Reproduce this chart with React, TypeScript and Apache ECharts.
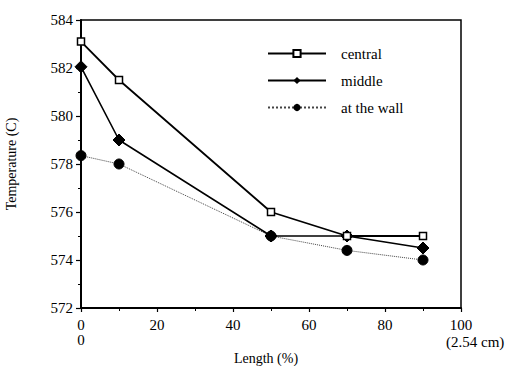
import React, { useEffect, useRef } from "react";
import * as echarts from "echarts";

const lengths = [0, 10, 50, 70, 90];
const central = [583.1, 581.5, 576.0, 575.0, 575.0];
const middle = [582.05, 579.0, 575.0, 575.0, 574.5];
const atTheWall = [578.35, 578.0, 575.0, 574.4, 574.0];
const seriesNames = ["central", "middle", "at the wall"];
const xTicks = [0, 20, 40, 60, 80, 100];
const yTicks = [572, 574, 576, 578, 580, 582, 584];

const FONT = "Liberation Serif";

export default function App() {
  const ref = useRef<HTMLDivElement>(null);
  useEffect(() => {
    document.body.style.margin = "0";
    if (!ref.current) return;
    const chart = echarts.init(ref.current, undefined, { renderer: "svg" });
    const pair = (arr: number[]) => lengths.map((x, i) => [x, arr[i]]);
    chart.setOption({
      animation: false,
      backgroundColor: "#fff",
      textStyle: { fontFamily: FONT, color: "#000" },
      grid: {
        left: 81,
        right: 52,
        top: 20,
        bottom: 58,
        containLabel: false,
        outerBoundsMode: "none",
        show: true,
        borderColor: "#000",
        borderWidth: 1.5,
        backgroundColor: "transparent",
      },
      legend: {
        orient: "vertical",
        left: 262,
        top: 41,
        itemWidth: 58,
        itemHeight: 9,
        itemGap: 12,
        data: seriesNames,
        textStyle: { fontFamily: FONT, fontSize: 15, color: "#000", padding: [0, 0, 0, 10] },
      },
      xAxis: {
        type: "value",
        min: xTicks[0],
        max: xTicks[xTicks.length - 1],
        interval: 20,
        name: "Length (%)",
        nameLocation: "middle",
        nameGap: 37,
        nameTextStyle: { fontFamily: FONT, fontSize: 14, color: "#000", padding: [0, 0, 0, -10] },
        axisLine: { show: true, onZero: false, lineStyle: { color: "#000", width: 2 } },
        axisTick: { show: true, inside: false, length: 4, lineStyle: { color: "#000", width: 1.2 } },
        minorTick: { show: true, splitNumber: 2, length: 3, lineStyle: { color: "#000" } },
        splitLine: { show: false },
        axisLabel: {
          fontFamily: FONT,
          fontSize: 15,
          color: "#000",
          margin: 9,
          lineHeight: 15,
          formatter: (v: number) => (v === 0 ? "0\n0" : String(v)),
        },
      },
      yAxis: {
        type: "value",
        min: yTicks[0],
        max: yTicks[yTicks.length - 1],
        interval: 2,
        name: "Temperature (C)",
        nameLocation: "middle",
        nameGap: 63,
        nameTextStyle: { fontFamily: FONT, fontSize: 14, color: "#000" },
        axisLine: { show: true, onZero: false, lineStyle: { color: "#000", width: 2 } },
        axisTick: { show: true, inside: false, length: 5, lineStyle: { color: "#000", width: 1.2 } },
        minorTick: { show: true, splitNumber: 2, length: 3, lineStyle: { color: "#000" } },
        splitLine: { show: false },
        axisLabel: { fontFamily: FONT, fontSize: 15, color: "#000", margin: 8 },
      },
      graphic: [
        {
          type: "text",
          left: 446,
          top: 334,
          style: { text: "(2.54 cm)", font: `15px 'Liberation Serif', serif`, fill: "#000" },
        },
      ],
      series: [
        {
          name: seriesNames[0],
          type: "line",
          data: pair(central),
          symbol: "rect",
          symbolSize: 7,
          itemStyle: { color: "#fff", borderColor: "#000", borderWidth: 1.5 },
          lineStyle: { color: "#000", width: 1.8 },
          z: 4,
        },
        {
          name: seriesNames[1],
          type: "line",
          data: pair(middle),
          symbol: "diamond",
          symbolSize: 12,
          itemStyle: { color: "#000", borderColor: "#000" },
          lineStyle: { color: "#000", width: 1.6 },
          z: 3,
        },
        {
          name: seriesNames[2],
          type: "line",
          data: pair(atTheWall),
          symbol: "circle",
          symbolSize: 10,
          itemStyle: { color: "#000", borderColor: "#000" },
          lineStyle: { color: "#444", width: 1, type: "dotted" },
          z: 2,
        },
      ],
    });
    return () => chart.dispose();
  }, []);
  return <div ref={ref} style={{ width: 513, height: 366 }} />;
}
